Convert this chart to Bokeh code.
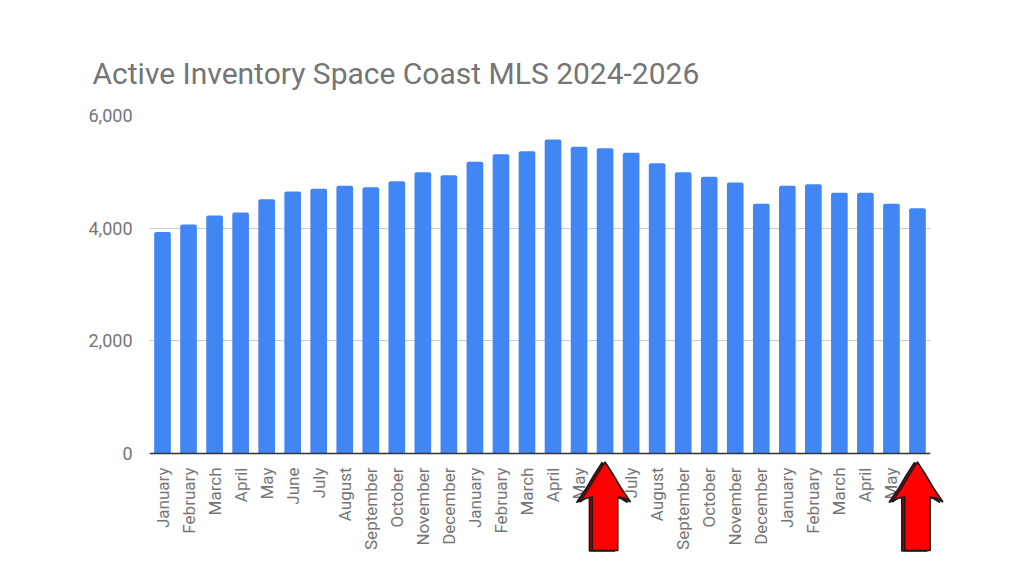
import math
from bokeh.plotting import figure
from bokeh.models import Range1d, FixedTicker, NumeralTickFormatter, ColumnDataSource
from bokeh.embed import file_html
from bokeh.resources import INLINE

# ---- data ----
years = [2024] * 12 + [2025] * 12 + [2026] * 6
months = ["January", "February", "March", "April", "May", "June", "July",
          "August", "September", "October", "November", "December"] * 2 + \
         ["January", "February", "March", "April", "May", "June"]
inventory_2024 = [3930, 4065, 4225, 4278, 4514, 4651, 4699, 4752, 4728, 4834, 4994, 4941]
inventory_2025 = [5178, 5314, 5367, 5574, 5444, 5420, 5338, 5154, 4994, 4911, 4811, 4432]
inventory_2026 = [4752, 4781, 4628, 4628, 4432, 4355]
inventory = inventory_2024 + inventory_2025 + inventory_2026
y_ticks = [0, 2000, 4000, 6000]
highlight = [(2025, "June"), (2026, "June")]

x = list(range(len(months)))
GRAY = "#757575"
FONT = "Roboto"

# layout (pixels)
W, H = 1024, 576
LEFT, RIGHT, TOP = 149, 94, 115
PLOT_PX = 338          # pixel height from 0 to 6000
Y_MAX = 6000
frame_w = W - LEFT - RIGHT
frame_h = H - TOP
units_per_px_y = Y_MAX / PLOT_PX
y_start = -(frame_h - PLOT_PX) * units_per_px_y
px_per_unit_x = frame_w / len(months)

p = figure(width=W, height=H, output_backend="svg", toolbar_location=None,
           x_range=Range1d(-0.5, len(months) - 0.5), y_range=Range1d(y_start, Y_MAX),
           min_border_left=LEFT, min_border_right=RIGHT, min_border_top=TOP,
           min_border_bottom=0)
p.outline_line_color = None
p.background_fill_color = "white"
p.border_fill_color = "white"

p.title.text = "Active Inventory Space Coast MLS 2024-2026"
p.title.text_font = FONT
p.title.text_font_size = "30px"
p.title.text_font_style = "normal"
p.title.text_color = GRAY
p.title.align = "left"
p.title.offset = -57
p.title.standoff = 50

p.vbar(x=x, top=inventory, width=0.64, color="#4285F4", line_color=None,
       border_radius=(2, 2, 0, 0))

# axes
p.yaxis.ticker = FixedTicker(ticks=y_ticks)
p.yaxis.formatter = NumeralTickFormatter(format="0,0")
p.yaxis.axis_line_color = None
p.yaxis.major_tick_line_color = None
p.yaxis.minor_tick_line_color = None
p.yaxis.major_label_text_font = FONT
p.yaxis.major_label_text_font_size = "18px"
p.yaxis.major_label_text_color = GRAY
p.yaxis.major_label_standoff = 11

p.xaxis.fixed_location = 0
p.xaxis.ticker = FixedTicker(ticks=x)
p.xaxis.major_label_overrides = {i: m for i, m in zip(x, months)}
p.xaxis.major_label_orientation = math.pi / 2
p.xaxis.axis_line_color = "#333333"
p.xaxis.axis_line_width = 1.5
p.xaxis.major_tick_line_color = None
p.xaxis.minor_tick_line_color = None
p.xaxis.major_label_text_font = FONT
p.xaxis.major_label_text_font_size = "17px"
p.xaxis.major_label_text_color = GRAY
p.xaxis.major_label_standoff = 8

p.xgrid.grid_line_color = None
p.ygrid.grid_line_color = "#cccccc"
p.ygrid.grid_line_width = 1

# arrows: shape in pixel offsets from the tip, converted to data units
shape = [(0, 0), (-8, 12.5), (-16, 26), (-25.5, 40), (-19, 36), (-12.7, 35),
         (-12.7, 88.5), (12.7, 88.5), (12.7, 35), (19, 36), (25.5, 40),
         (16, 26), (8, 12.5)]
tip_gap_px = 8.5
for off, color in [((-3, 0.5), "#9a0000"), ((0, 0), "#ff0000")]:
    xs_all, ys_all = [], []
    for (yr, mo) in highlight:
        idx = [i for i in x if years[i] == yr and months[i] == mo][0]
        xs_all.append([idx + (dx + off[0]) / px_per_unit_x for dx, dy in shape])
        ys_all.append([-(tip_gap_px + dy + off[1]) * units_per_px_y for dx, dy in shape])
    src = ColumnDataSource(dict(xs=xs_all, ys=ys_all))
    p.patches("xs", "ys", source=src, fill_color=color, line_color="#1a1a1a",
              line_width=1.5, level="overlay")

open("out.html", "w").write(file_html(p, INLINE))
